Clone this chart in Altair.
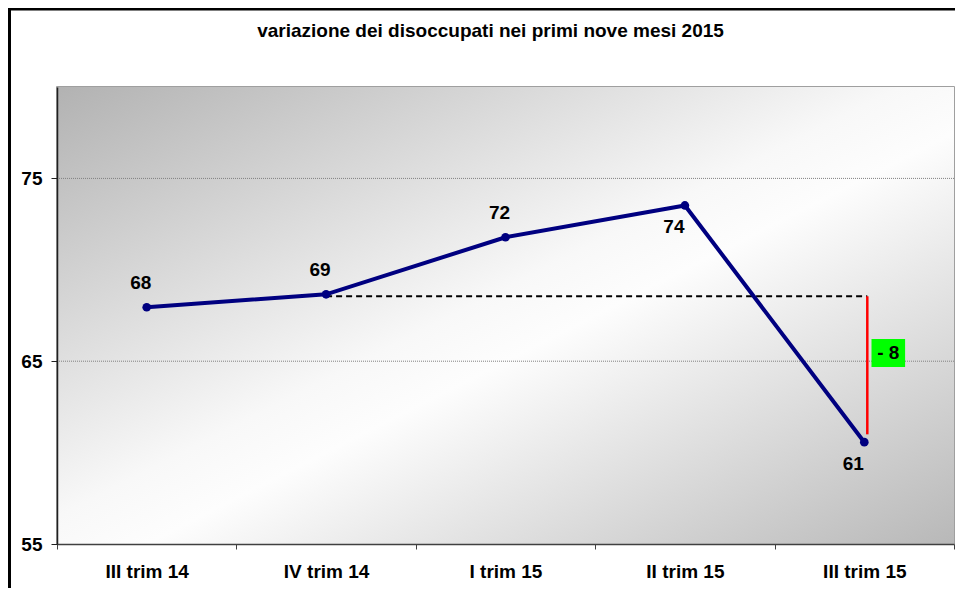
import altair as alt
import pandas as pd

# ---- data ----
categories = ["III trim 14", "IV trim 14", "I trim 15", "II trim 15", "III trim 15"]
values = [67.95, 68.66, 71.78, 73.52, 60.57]
labels = ["68", "69", "72", "74", "61"]
labels_below = ["II trim 15", "III trim 15"]
y_ticks = [55, 65, 75]
y_domain = [55, 80]
grid_values = [65, 75]
ref_start = "IV trim 14"
ref_end = "III trim 15"
ref_level = 68.55
gap_end_level = 61.0
gap_text = "- 8"
gap_text_level = 65.45
title_text = "variazione dei disoccupati nei primi nove mesi 2015"

FONT = "Liberation Sans"
FS = 19
W, H = 897, 457
NAVY = "#000080"

df = pd.DataFrame({"trim": categories, "val": values, "lab": labels})
df["below"] = df["trim"].isin(labels_below)
ann = pd.DataFrame({"start": [ref_start], "end": [ref_end], "level": [ref_level],
                    "low": [gap_end_level], "txt": [gap_text], "tl": [gap_text_level]})
grid_df = pd.DataFrame({"g": grid_values})
one = pd.DataFrame({"a": [0]})

xscale = alt.Scale(type="band", domain=categories, paddingInner=0, paddingOuter=0)
yscale = alt.Scale(domain=y_domain, nice=False, zero=False)

x_axis = alt.Axis(title=None, labelAngle=0, tickBand="extent", grid=False,
                  labelFont=FONT, labelFontSize=FS, labelFontWeight="bold",
                  labelColor="black", labelPadding=13, tickSize=5, tickColor="#404040",
                  domainColor="#404040", domainWidth=1.5, zindex=1)
y_axis = alt.Axis(title=None, values=y_ticks, grid=False,
                  labelFont=FONT, labelFontSize=FS, labelFontWeight="bold",
                  labelColor="black", labelPadding=9, tickSize=6, tickColor="#202020",
                  domainColor="#202020", domainWidth=1.5, zindex=1)


def X(field):
    return alt.X(f"{field}:N", scale=xscale, sort=categories, axis=x_axis, bandPosition=0.5)


def Y(field):
    return alt.Y(f"{field}:Q", scale=yscale, axis=y_axis)


# background gradient
bg = alt.Chart(one).mark_rect(
    color=alt.LinearGradient(gradient="linear", x1=0, y1=0, x2=1, y2=1,
                             stops=[alt.GradientStop(offset=0, color="#b2b2b2"),
                                    alt.GradientStop(offset=0.47, color="#f8f8f8"),
                                    alt.GradientStop(offset=0.55, color="#fdfdfd"),
                                    alt.GradientStop(offset=1, color="#b8b8b8")])
).encode(x=alt.value(0), x2=alt.value(W), y=alt.value(0), y2=alt.value(H))

grid = alt.Chart(grid_df).mark_rule(color="#808080", strokeWidth=1, strokeDash=[1, 1]).encode(
    y=Y("g")
)

line = alt.Chart(df).mark_line(color=NAVY, strokeWidth=4).encode(x=X("trim"), y=Y("val"))
pts = alt.Chart(df).mark_circle(color=NAVY, size=75, opacity=1).encode(x=X("trim"), y=Y("val"))

lab_above = alt.Chart(df).transform_filter("!datum.below").mark_text(
    font=FONT, fontSize=FS, fontWeight="bold", color="black", dy=-24, dx=-6
).encode(x=X("trim"), y=Y("val"), text="lab:N")
lab_below = alt.Chart(df).transform_filter("datum.below").mark_text(
    font=FONT, fontSize=FS, fontWeight="bold", color="black", dy=22, dx=-11
).encode(x=X("trim"), y=Y("val"), text="lab:N")

dashed = alt.Chart(ann).mark_rule(color="black", strokeWidth=2, strokeDash=[6, 4],
                                  x2Offset=3).encode(
    x=X("start"), x2=alt.X2("end:N"), y=Y("level"),
)

red = alt.Chart(ann).mark_rule(color="#ff0000", strokeWidth=2.5, xOffset=3).encode(
    x=X("end"), y=Y("level"), y2="low:Q",
)

box = alt.Chart(ann).mark_point(
    shape="M-1.2,-1L1.2,-1L1.2,1L-1.2,1Z", size=784, filled=True,
    color="#00ff00", opacity=1, xOffset=24, strokeWidth=0
).encode(x=X("end"), y=Y("tl"))
box_txt = alt.Chart(ann).mark_text(
    font=FONT, fontSize=FS, fontWeight="bold", color="black", dx=24
).encode(x=X("end"), y=Y("tl"), text="txt:N")

# outer frame (left and top edges visible in the reference)
frame_left = alt.Chart(one).mark_rule(color="black", strokeWidth=3).encode(
    x=alt.value(-47.5), y=alt.value(-79), y2=alt.value(H + 44)
)
frame_top = alt.Chart(one).mark_rule(color="black", strokeWidth=2.5).encode(
    x=alt.value(-49), x2=alt.value(W + 1), y=alt.value(-77.8)
)

chart = alt.layer(
    bg, grid, dashed, red, line, pts, lab_above, lab_below, box, box_txt, frame_left, frame_top
).properties(
    width=W, height=H,
    title=alt.TitleParams(title_text, font=FONT, fontSize=FS, fontWeight="bold",
                          color="black", anchor="middle", frame="group", offset=-34, dx=-15),
    autosize=alt.AutoSizeParams(type="none"),
    padding={"left": 49, "top": 79, "right": 1, "bottom": 44},
    background="white",
).configure_view(stroke="#808080", strokeWidth=1.5)

chart.save("out.html", embed_options={"renderer": "svg", "actions": False})
